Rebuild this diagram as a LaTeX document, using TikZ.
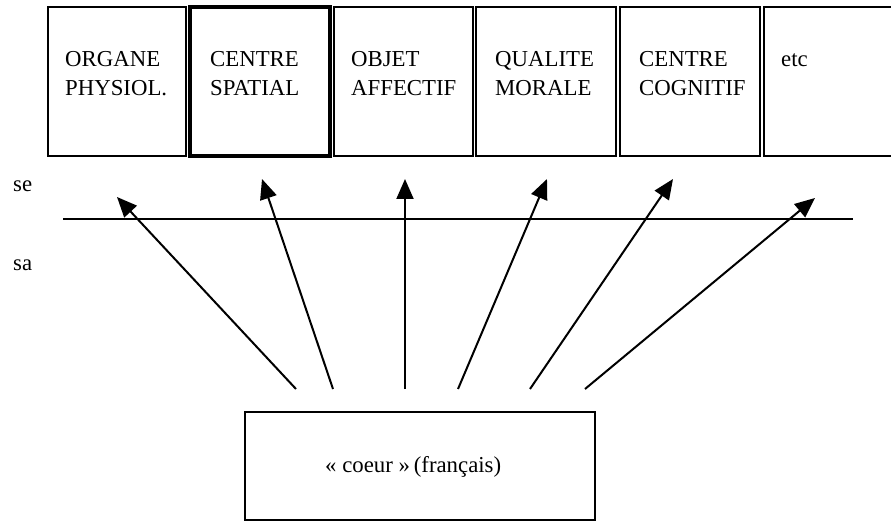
\documentclass[tikz,border=0pt]{standalone}
\usepackage{fontspec}
\setmainfont{Liberation Serif}
\usetikzlibrary{arrows.meta}
\begin{document}
\begin{tikzpicture}[x=1pt,y=-1pt,
  topbox/.style={draw,line width=2.5pt,minimum height=149pt,inner sep=0pt,outer sep=0pt,anchor=north west},
  lbl/.style={font=\fontsize{22.8}{29}\selectfont,inner sep=0pt,align=left,anchor=base west},
  arr/.style={line width=2pt,-{Triangle[length=20pt,width=17pt]}}]
\useasboundingbox (0,0) rectangle (891,521);
\clip (0,0) rectangle (891,521);
% top boxes
\node[topbox,minimum width=138pt] (b1) at (48,7) {};
\node[topbox,minimum width=140pt,line width=3.2pt] (b2) at (190,7) {};
\node[topbox,minimum width=139pt] (b3) at (334,7) {};
\node[topbox,minimum width=140pt] (b4) at (476,7) {};
\node[topbox,minimum width=140pt] (b5) at (620,7) {};
\node[topbox,minimum width=150pt] (b6) at (764,7) {};
% labels (base = baseline of last line)
\node[lbl] (t1) at (65,96) {ORGANE\\PHYSIOL.};
\node[lbl] (t2) at (210,96) {CENTRE\\SPATIAL};
\node[lbl] (t3) at (351,96) {OBJET\\AFFECTIF};
\node[lbl] (t4) at (495,96) {QUALITE\\MORALE};
\node[lbl] (t5) at (639,96) {CENTRE\\COGNITIF};
\node[lbl] (t6) at (781,67) {etc};
% se / sa
\node[lbl] (se) at (13,192) {se};
\node[lbl] (sa) at (13,270) {sa};
% separating line
\coordinate (l1) at (63,219);
\coordinate (l2) at (853,219);
\draw[line width=2pt] (l1) -- (l2);
% bottom box
\node[draw,line width=2.5pt,minimum width=350pt,minimum height=108pt,inner sep=0pt,outer sep=0pt,anchor=north west] (bot) at (245,412) {};
\node[lbl] (bt) at (325,472) {« coeur »\,(français)};
% arrows
\coordinate (s1) at (296,389); \coordinate (e1) at (117,197);
\coordinate (s2) at (333,389); \coordinate (e2) at (262,179);
\coordinate (s3) at (405,389); \coordinate (e3) at (405,179);
\coordinate (s4) at (458,389); \coordinate (e4) at (547,179);
\coordinate (s5) at (530,389); \coordinate (e5) at (673,179);
\coordinate (s6) at (585,389); \coordinate (e6) at (815,198);
\foreach \i in {1,...,6} \draw[arr] (s\i) -- (e\i);
\end{tikzpicture}
\end{document}
